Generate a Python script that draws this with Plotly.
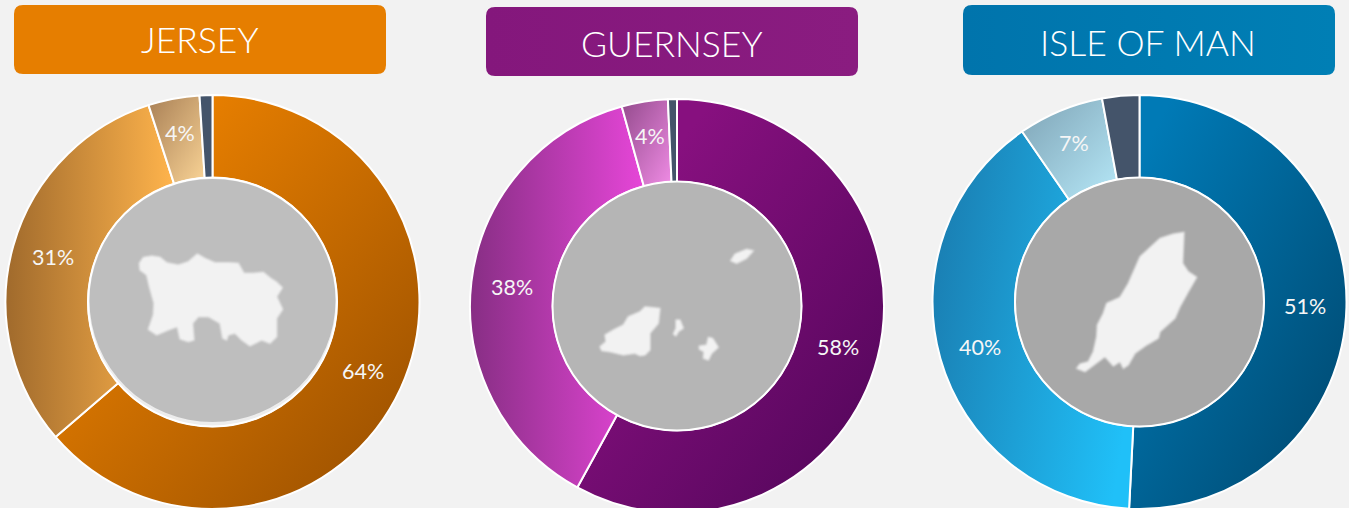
import json
import math
import plotly.graph_objects as go

W, H = 1349, 520  # page is cropped to 508 by the window; Guernsey's ring runs past the edge

# ---- data ----
TITLES = ["JERSEY", "GUERNSEY", "ISLE OF MAN"]
CATEGORIES = ["Segment A", "Segment B", "Segment C", "Segment D"]
JERSEY_VALUES = [63.7, 31.3, 4, 1]
GUERNSEY_VALUES = [58, 37.7, 3.6, 0.7]
MAN_VALUES = [50.8, 39.6, 6.7, 2.9]
JERSEY_LABELS = ["64%", "31%", "4%", ""]
GUERNSEY_LABELS = ["58%", "38%", "4%", ""]
MAN_LABELS = ["51%", "40%", "7%", ""]

# ---- styling ----
BG = "#F2F2F2"
FONT = "Lato"
CX = [212.5, 677, 1139.5]
CY = [302, 306, 302]
R = 207
HEAD = [(14, 5, 386, 74), (486, 7, 858, 76), (963, 5, 1335, 75)]
HEAD_TXT = [(199.5, 40), (672, 43), (1148, 42)]
HEAD_GRAD = [("#E67E00", "#E67E00"), ("#84177C", "#8A1C80"), ("#0074AC", "#007FB5")]
DISC = ["#BEBEBE", "#B5B5B5", "#A8A8A8"]
# (start colour, end colour, x1, y1, x2, y2) in slice bounding-box units
GRADS = [
    [("#E67E00", "#9A5000", .22, .22, .95, .95), ("#A06A2C", "#FFB44C", 0, .5, 1, .5),
     ("#A87F55", "#FAD496", 0, 0, 1, 1), ("#44546A", "#44546A", 0, 0, 1, 1)],
    [("#87107F", "#52065A", .22, .22, .95, .95), ("#872E84", "#E646D8", 0, .5, 1, .5),
     ("#934A8C", "#F08CE5", 0, 0, 1, 1), ("#44546A", "#44546A", 0, 0, 1, 1)],
    [("#007AB6", "#00466C", .1, .1, 1, 1), ("#1A7FB3", "#20C0F8", 0, .35, 1, .65),
     ("#7EA3B5", "#B6E8F8", 0, 0, 1, 1), ("#44546A", "#44546A", 0, 0, 1, 1)],
]

# outline tracings of the island silhouettes: pixel points in zoomed crops
JERSEY_SHAPE = [(58,70),(70,52),(95,48),(120,52),(140,68),(175,75),(205,65),(232,42),(255,55),(285,68),(330,68),(355,70),(372,100),(400,100),(430,97),(452,115),(468,125),(487,143),(470,170),(488,208),(470,235),(470,290),(450,310),(425,300),(390,318),(365,300),(345,280),(325,285),(320,300),(308,295),(300,250),(265,230),(235,230),(218,250),(222,300),(205,305),(180,297),(172,260),(145,270),(110,285),(85,268),(100,225),(102,190),(88,140),(80,105),(60,90)]
GUERNSEY_SHAPES = [
    [(30,320),(48,305),(45,285),(70,270),(100,255),(115,230),(150,215),(165,200),(210,205),(205,250),(180,280),(180,330),(165,345),(150,347),(135,340),(100,345),(60,335),(35,332)],
    [(422,62),(435,42),(470,28),(490,32),(470,55),(440,70)],
    [(258,240),(270,240),(280,265),(265,275),(258,288),(250,282),(258,265)],
    [(328,318),(350,315),(355,292),(368,295),(385,322),(365,340),(355,360),(340,355),(342,335),(328,328)],
]
MAN_SHAPE = [(372,37),(368,130),(385,155),(410,172),(385,215),(360,260),(345,295),(300,335),(295,355),(260,375),(225,400),(205,435),(190,445),(180,425),(160,438),(135,410),(115,425),(75,455),(50,445),(60,432),(85,425),(100,395),(110,350),(112,315),(130,280),(140,250),(180,232),(205,190),(240,110),(300,55),(340,42)]


def px(x):
    return x / W


def py(y):
    return 1 - y / H


def poly(points, ox, oy):
    pts = [(px(ox + a / 3), py(oy + b / 3)) for a, b in points]
    return "M" + " L".join(f"{a:.5f},{b:.5f}" for a, b in pts) + " Z"


def round_rect(x0, y0, x1, y1, r=9):
    a, b, c, d = px(x0), py(y0), px(x1), py(y1)
    rx, ry = r / W, r / H
    return (f"M{a+rx:.5f},{b:.5f} L{c-rx:.5f},{b:.5f} Q{c:.5f},{b:.5f} {c:.5f},{b-ry:.5f} "
            f"L{c:.5f},{d+ry:.5f} Q{c:.5f},{d:.5f} {c-rx:.5f},{d:.5f} "
            f"L{a+rx:.5f},{d:.5f} Q{a:.5f},{d:.5f} {a:.5f},{d+ry:.5f} "
            f"L{a:.5f},{b-ry:.5f} Q{a:.5f},{b:.5f} {a+rx:.5f},{b:.5f} Z")


fig = go.Figure()
shapes = []
annotations = []
series = [(JERSEY_VALUES, JERSEY_LABELS), (GUERNSEY_VALUES, GUERNSEY_LABELS), (MAN_VALUES, MAN_LABELS)]
for i, (vals, labs) in enumerate(series):
    fig.add_trace(go.Pie(
        labels=CATEGORIES, values=vals, textinfo="none",
        sort=False, direction="clockwise", rotation=0, hole=0.6, showlegend=False,
        hoverinfo="skip",
        marker=dict(colors=[g[0] for g in GRADS[i]], line=dict(color="white", width=2)),
        domain=dict(x=[px(CX[i] - R), px(CX[i] + R)], y=[py(CY[i] + R), py(CY[i] - R)]),
    ))
    # percentage labels sit on each slice's bisector, computed from the values
    total = sum(vals)
    run = 0
    for v, lab in zip(vals, labs):
        ang = 2 * math.pi * (run + v / 2) / total
        run += v
        if not lab:
            continue
        rad = 166 if v / total >= 0.1 else 172
        annotations.append(dict(text=lab, xref="paper", yref="paper", showarrow=False,
                                x=px(CX[i] + rad * math.sin(ang)), y=py(CY[i] - rad * math.cos(ang)),
                                xanchor="center", yanchor="middle",
                                font=dict(family=FONT, size=21.5, color="#F6F6F6", weight=400)))

for i in range(3):
    shapes.append(dict(type="path", path=round_rect(*HEAD[i]), xref="paper", yref="paper",
                       fillcolor=HEAD_GRAD[i][0], line=dict(width=0), layer="above"))
    annotations.append(dict(text=TITLES[i], x=px(HEAD_TXT[i][0]), y=py(HEAD_TXT[i][1]),
                            xref="paper", yref="paper", showarrow=False, xanchor="center", yanchor="middle",
                            font=dict(family=FONT, size=35.5, color="white", weight=300)))
    cx, cy = CX[i], CY[i]
    shapes.append(dict(type="circle", xref="paper", yref="paper", layer="above",
                       x0=px(cx - 124.5), x1=px(cx + 124.5), y0=py(cy + 124.5), y1=py(cy - 124.5),
                       fillcolor="#EDEDED" if i == 0 else DISC[i], line=dict(color="white", width=2)))
    if i == 0:  # Jersey disc leaves a pale crescent at the bottom
        shapes.append(dict(type="circle", xref="paper", yref="paper", layer="above",
                           x0=px(cx - 123), x1=px(cx + 123), y0=py(cy + 120), y1=py(cy - 123),
                           fillcolor=DISC[0], line=dict(width=0)))


def island(points, ox, oy):
    return dict(type="path", path=poly(points, ox, oy), xref="paper", yref="paper", layer="above",
                fillcolor=BG, line=dict(color="rgba(242,242,242,0.6)", width=1.5), name="island")


shapes.append(island(JERSEY_SHAPE, 120, 240))
for s in GUERNSEY_SHAPES:
    shapes.append(island(s, 590, 240))
shapes.append(island(MAN_SHAPE, 1060, 220))

fig.update_layout(width=W, height=H, autosize=False, margin=dict(l=0, r=0, t=0, b=0, pad=0),
                  paper_bgcolor=BG, plot_bgcolor=BG, shapes=shapes, annotations=annotations,
                  font=dict(family=FONT))

POST = """
document.documentElement.style.overflow='hidden';
document.documentElement.style.background='%s';
document.body.style.margin='0';document.body.style.overflow='hidden';
var gd=document.getElementById('{plot_id}');
var svg=gd.querySelector('.main-svg');var NS='http://www.w3.org/2000/svg';
var defs=svg.querySelector('defs');
function grad(id,g){var e=document.createElementNS(NS,'linearGradient');e.setAttribute('id',id);
 e.setAttribute('x1',g[2]);e.setAttribute('y1',g[3]);e.setAttribute('x2',g[4]);e.setAttribute('y2',g[5]);
 [[0,g[0]],[1,g[1]]].forEach(function(s){var t=document.createElementNS(NS,'stop');
 t.setAttribute('offset',s[0]);t.setAttribute('stop-color',s[1]);e.appendChild(t);});defs.appendChild(e);return 'url(#'+id+')';}
var G=%s;
gd.querySelectorAll('.pielayer .trace').forEach(function(tr,i){
 tr.querySelectorAll('.slice').forEach(function(sl,j){
  sl.querySelector('path.surface').style.fill=grad('sg'+i+'_'+j,G[i][j]);});});
var HG=%s;var idx=0;
gd.querySelectorAll('.layer-above .shapelayer path').forEach(function(p){
 var d=p.getAttribute('d');
 if(d.indexOf('Q')>=0&&idx<3){p.style.fill=grad('hg'+idx,[HG[idx][0],HG[idx][1],0,.5,1,.5]);idx++;}
 else if(d.indexOf('Q')<0&&d.indexOf('A')<0){p.style.filter='blur(1px)';}});
""" % (BG, json.dumps(GRADS), json.dumps(HEAD_GRAD))

fig.write_html("out.html", post_script=POST, config=dict(displayModeBar=False))
